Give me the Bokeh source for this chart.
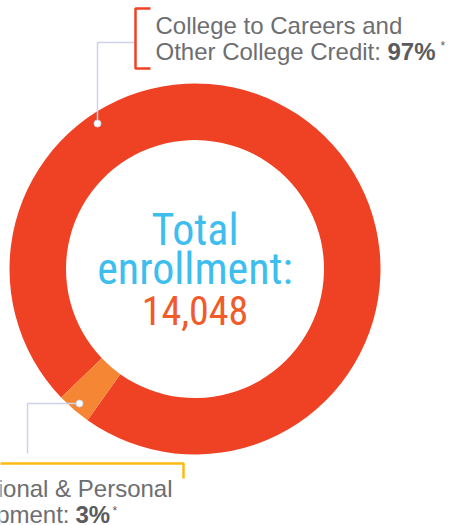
import numpy as np
from bokeh.plotting import figure
from bokeh.models import Range1d, ColumnDataSource
from bokeh.core.properties import value
from bokeh.embed import file_html
from bokeh.resources import INLINE

# ---- data ----
categories = ["College to Careers and Other College Credit", "Professional & Personal Development"]
shares = [97, 3]
colors = ["#EF4124", "#F58634"]
total_enrollment = 14048

# ---- geometry (pixel-like data units, donut centre at 0,0) ----
CX, CY = 194.5, 268.5          # donut centre in picture coords
W, H = 449, 525
def px(x):  # picture x -> data x
    return x - CX
def py(y):  # picture y -> data y
    return CY - y

p = figure(width=W, height=H, output_backend="svg", toolbar_location=None,
           x_range=Range1d(px(0), px(W)), y_range=Range1d(py(H), py(0)),
           min_border=0)
p.axis.visible = False
p.grid.visible = False
p.outline_line_color = None
p.background_fill_color = "white"

start0 = np.deg2rad(234.6)
fr = np.array(shares, dtype=float) / sum(shares)
ends = start0 + 2 * np.pi * np.cumsum(fr)
starts = np.concatenate([[start0], ends[:-1]])
src = ColumnDataSource(dict(cat=categories, start=starts, end=ends, color=colors))
p.annular_wedge(x=0, y=0, inner_radius=129, outer_radius=185.5,
                start_angle="start", end_angle="end", fill_color="color",
                line_color=None, source=src)

# ---- centre text ----
cond = value("Roboto Condensed, DejaVu Sans Condensed, Roboto")
mid = "middle"
p.text(x=[0], y=[py(229)], text=["Total"], text_align="center", text_baseline=mid,
       text_font=cond, text_font_size="44px", text_color="#3EBEEE")
p.text(x=[0], y=[py(268)], text=["enrollment:"], text_align="center", text_baseline=mid,
       text_font=cond, text_font_size="44px", text_color="#3EBEEE")
p.text(x=[0], y=[py(309.5)], text=[f"{total_enrollment:,}"], text_align="center", text_baseline=mid,
       text_font=cond, text_font_size="40px", text_color="#F15A29")

# ---- leader lines ----
lead = "#CDD2E6"
p.line([px(135), px(97), px(97)], [py(42), py(42), py(123)], line_color=lead, line_width=1.5)
p.line([px(79), px(27), px(27)], [py(403), py(403), py(453)], line_color=lead, line_width=1.5)
p.scatter([px(97), px(79)], [py(123), py(403)], size=7, fill_color="white",
          line_color=lead, line_width=1)

# ---- brackets ----
p.line([px(150), px(135), px(135), px(150)], [py(8), py(8), py(68), py(68)],
       line_color="#EF4124", line_width=2.5)
p.line([px(-5), px(183), px(183)], [py(463), py(463), py(478)],
       line_color="#FDB913", line_width=2.5)

# ---- labels ----
gray = "#6D6E71"
dark = "#5A5B5E"
f = value("Liberation Sans")
fs = "24px"
pct = [f"{s}%" for s in shares]
p.text(x=[px(155)], y=[py(25)], text=["College to Careers and"], text_font=f, text_font_size=fs,
       text_color=gray, text_baseline=mid)
p.text(x=[px(155)], y=[py(50.5)], text=["Other College Credit:"], text_font=f, text_font_size=fs,
       text_color=gray, text_baseline=mid)
p.text(x=[px(387)], y=[py(50.5)], text=[pct[0]], text_font=f, text_font_size=fs,
       text_font_style="bold", text_color=dark, text_baseline=mid)
p.text(x=[px(440)], y=[py(45)], text=["*"], text_font=f, text_font_size="12px",
       text_color=dark, text_baseline=mid)

p.text(x=[px(172)], y=[py(488)], text=["Professional & Personal"], text_font=f, text_font_size=fs,
       text_color=gray, text_baseline=mid, text_align="right")
p.text(x=[px(69)], y=[py(513.5)], text=["Development:"], text_font=f, text_font_size=fs,
       text_color=gray, text_baseline=mid, text_align="right")
p.text(x=[px(75)], y=[py(513.5)], text=[pct[1]], text_font=f, text_font_size=fs,
       text_font_style="bold", text_color=dark, text_baseline=mid)
p.text(x=[px(112)], y=[py(510)], text=["*"], text_font=f, text_font_size="12px",
       text_color=dark, text_baseline=mid)

open("out.html", "w").write(file_html(p, INLINE))
